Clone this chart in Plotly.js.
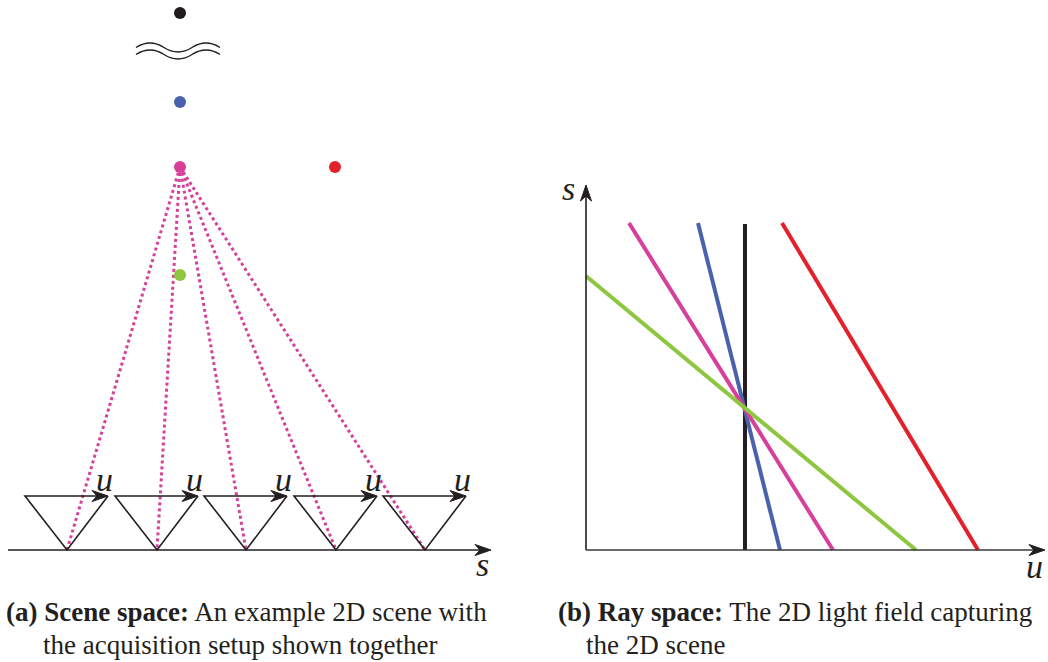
<!DOCTYPE html>
<html>
<head>
<meta charset="utf-8">
<script src="https://cdn.plot.ly/plotly-3.0.1.min.js"></script>
<style>html,body{margin:0;padding:0;background:#fff;}#chart{width:1048px;height:662px;}</style>
</head>
<body>
<div id="chart"></div>
<script>
// ---- Scene-space data (pixel-like diagram units) ----
var pointNames = ["far", "blue", "magenta", "red", "green"];
var pointX = [180, 180, 180, 335, 180];
var pointY = [13, 102, 167, 167, 275];
var pointColors = ["#1f1a1b", "#4a62ad", "#d6409a", "#e2212a", "#8dc63f"];

var cameraX = [67, 157, 246, 336, 425];   // camera centres on the s-axis
var baseY = 550;                            // s-axis height
var camTopY = 496;                          // u-plane height
var camLeft = 42, camRight = 41;           // half-widths of camera triangles

// ---- Ray-space data ----
var rayNames = ["black", "blue", "magenta", "green", "red"];
var rayX0 = [745, 698, 629, 586, 782];
var rayY0 = [224, 223, 223, 276, 223];
var rayX1 = [745, 780, 833, 916, 978];
var rayY1 = [550, 550, 550, 550, 550];
var rayColors = ["#231f20", "#4a62ad", "#d6409a", "#8dc63f", "#e2212a"];

var axisOriginX = 586, axisOriginY = 550, sAxisTop = 185, uAxisRight = 1045;

var captionA1 = "<b>(a) Scene space:</b> An example 2D scene with";
var captionA2 = "the acquisition setup shown together";
var captionB1 = "<b>(b) Ray space:</b> The 2D light field capturing";
var captionB2 = "the 2D scene";

var ink = "#231f20";
var traces = [];
var shapes = [];
var annotations = [];

function arrowHead(tx, ty, dir) {
  var L = 16, W = 5.5, I = 11;
  var p;
  if (dir === 'right') {
    p = 'M' + tx + ',' + ty + ' L' + (tx - L) + ',' + (ty - W) + ' L' + (tx - I) + ',' + ty + ' L' + (tx - L) + ',' + (ty + W) + ' Z';
  } else {
    p = 'M' + tx + ',' + ty + ' L' + (tx - W) + ',' + (ty + L) + ' L' + tx + ',' + (ty + I) + ' L' + (tx + W) + ',' + (ty + L) + ' Z';
  }
  shapes.push({type: 'path', path: p, xref: 'x', yref: 'y', fillcolor: ink, line: {color: ink, width: 1}});
}

var labelFont = {family: 'Liberation Serif', size: 34, color: ink, style: 'italic'};

// dotted rays from the magenta point to each camera
var mIdx = pointNames.indexOf("magenta");
cameraX.forEach(function (cx) {
  traces.push({x: [pointX[mIdx], cx], y: [pointY[mIdx], baseY], mode: 'lines',
    line: {color: pointColors[mIdx], width: 3, dash: 'dot'}, hoverinfo: 'skip', showlegend: false});
});

// cameras (triangles with u-arrow on top)
cameraX.forEach(function (cx) {
  var l = cx - camLeft, r = cx + camRight;
  shapes.push({type: 'path', path: 'M' + r + ',' + camTopY + ' L' + cx + ',' + baseY + ' L' + l + ',' + camTopY + ' L' + (r - 8) + ',' + camTopY,
    xref: 'x', yref: 'y', line: {color: ink, width: 1.6}});
  arrowHead(r, camTopY, 'right');
  annotations.push({x: r - 4, y: camTopY - 17, xref: 'x', yref: 'y', text: 'u', showarrow: false,
    font: labelFont, xanchor: 'center', yanchor: 'middle'});
});

// scene s-axis
shapes.push({type: 'line', x0: 8, y0: baseY, x1: 482, y1: baseY, xref: 'x', yref: 'y', line: {color: ink, width: 1.6}});
arrowHead(491, baseY, 'right');
annotations.push({x: 482, y: 564, xref: 'x', yref: 'y', text: 's', showarrow: false,
  font: labelFont, xanchor: 'center', yanchor: 'middle'});

// "infinity" wavy break
shapes.push({type: 'path', path: 'M136,47.5 Q150,38.5 164,47.5 T192,47.5 T220,47.5', xref: 'x', yref: 'y', line: {color: ink, width: 1.4}});
shapes.push({type: 'path', path: 'M136,54.5 Q150,45.5 164,54.5 T192,54.5 T220,54.5', xref: 'x', yref: 'y', line: {color: ink, width: 1.4}});

// scene points
traces.push({x: pointX, y: pointY, mode: 'markers', marker: {color: pointColors, size: 12},
  text: pointNames, hoverinfo: 'text', showlegend: false});

// ray-space axes
shapes.push({type: 'line', x0: axisOriginX, y0: axisOriginY, x1: axisOriginX, y1: sAxisTop + 8, xref: 'x', yref: 'y', line: {color: ink, width: 1.6}});
arrowHead(axisOriginX, sAxisTop, 'up');
shapes.push({type: 'line', x0: axisOriginX, y0: axisOriginY, x1: uAxisRight - 8, y1: axisOriginY, xref: 'x', yref: 'y', line: {color: '#3a3a3a', width: 1.6}});
arrowHead(uAxisRight, axisOriginY, 'right');
annotations.push({x: 568, y: 188, xref: 'x', yref: 'y', text: 's', showarrow: false,
  font: labelFont, xanchor: 'center', yanchor: 'middle'});
annotations.push({x: 1034, y: 566, xref: 'x', yref: 'y', text: 'u', showarrow: false,
  font: labelFont, xanchor: 'center', yanchor: 'middle'});

// rays (lines in ray space)
for (var i = 0; i < rayNames.length; i++) {
  traces.push({x: [rayX0[i], rayX1[i]], y: [rayY0[i], rayY1[i]], mode: 'lines', name: rayNames[i],
    line: {color: rayColors[i], width: 4}, hoverinfo: 'name', showlegend: false});
}

// captions
var capFont = {family: 'Liberation Serif', size: 27, color: ink};
annotations.push({x: 4, y: 612, text: captionA1, xref: 'x', yref: 'y', showarrow: false, xanchor: 'left', yanchor: 'middle', font: capFont});
annotations.push({x: 41, y: 645, text: captionA2, xref: 'x', yref: 'y', showarrow: false, xanchor: 'left', yanchor: 'middle', font: capFont});
annotations.push({x: 556, y: 612, text: captionB1, xref: 'x', yref: 'y', showarrow: false, xanchor: 'left', yanchor: 'middle', font: capFont});
annotations.push({x: 584, y: 645, text: captionB2, xref: 'x', yref: 'y', showarrow: false, xanchor: 'left', yanchor: 'middle', font: capFont});

var layout = {
  width: 1048, height: 662,
  margin: {l: 0, r: 0, t: 0, b: 0, pad: 0},
  paper_bgcolor: '#ffffff', plot_bgcolor: '#ffffff',
  xaxis: {range: [0, 1048], visible: false, fixedrange: true},
  yaxis: {range: [662, 0], visible: false, fixedrange: true},
  shapes: shapes,
  annotations: annotations,
  showlegend: false
};
Plotly.newPlot('chart', traces, layout, {displayModeBar: false, staticPlot: true});
</script>
</body>
</html>
